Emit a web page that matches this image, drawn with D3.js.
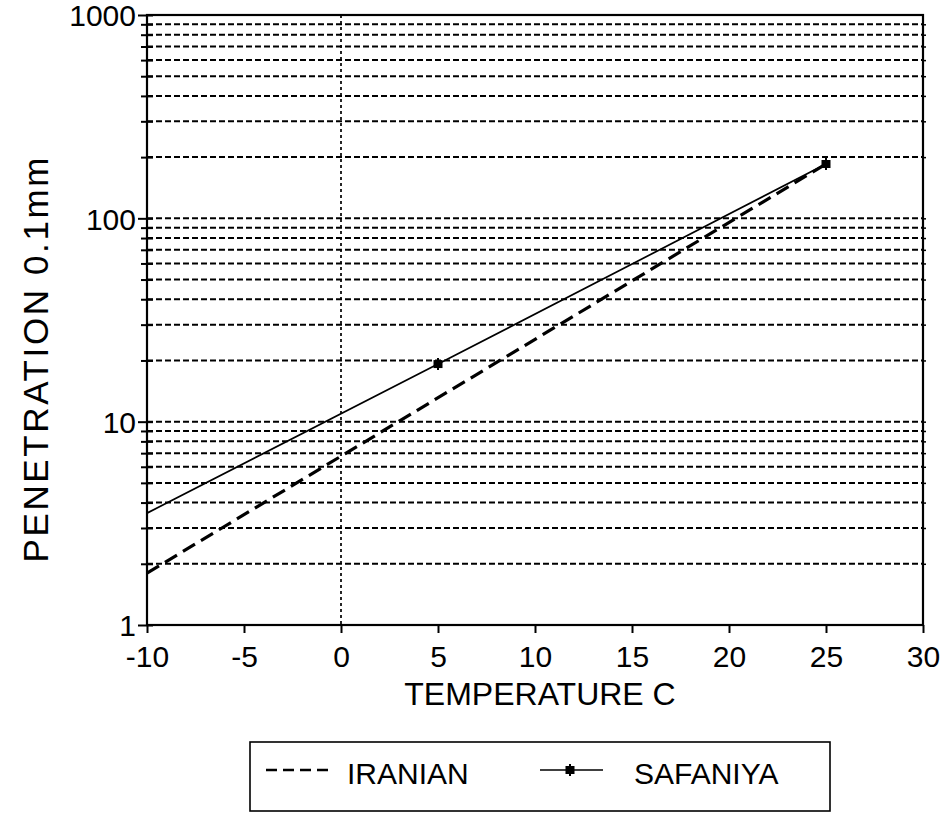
<!DOCTYPE html>
<html>
<head>
<meta charset="utf-8">
<script src="https://cdn.jsdelivr.net/npm/d3@7/dist/d3.min.js"></script>
<style>
  html, body { margin: 0; padding: 0; background: #fff; }
  svg { display: block; }
  text { font-family: "Liberation Sans", Arial, Helvetica, sans-serif; fill: #000; }
</style>
</head>
<body>
<svg id="chart" width="948" height="814"></svg>
<script>
// Penetration vs temperature for two bitumens (log scale)
const xTicks = [-10, -5, 0, 5, 10, 15, 20, 25, 30];
const yMajor = [1, 10, 100, 1000];

const iranianTemp = [-10, 25];
const iranianPen = [1.8, 185];

const safaniyaTemp = [-10, 5, 25];
const safaniyaPen = [3.55, 19.2, 185];
const safaniyaMarked = [false, true, true];

const seriesNames = ["IRANIAN", "SAFANIYA"];

const svg = d3.select("#chart");
const m = { left: 147, right: 923, top: 15, bottom: 625 };

const x = d3.scaleLinear().domain([-10, 30]).range([m.left, m.right]);
const y = d3.scaleLog().domain([1, 1000]).range([m.bottom, m.top]);

// minor values 2..9 within every decade, plus the decade lines 10 and 100
const minor = [];
[1, 10, 100].forEach(d => { for (let k = 2; k <= 9; k++) minor.push(d * k); });
const gridVals = minor.concat([10, 100]);

const g = svg.append("g");

// horizontal dashed grid
g.selectAll("line.hgrid").data(gridVals).join("line")
  .attr("class", "hgrid")
  .attr("x1", m.left).attr("x2", m.right)
  .attr("y1", d => y(d)).attr("y2", d => y(d))
  .attr("stroke", "#000").attr("stroke-width", 2)
  .attr("stroke-dasharray", "6,3");

// vertical dotted line at 0 C
g.append("line")
  .attr("x1", x(0)).attr("x2", x(0))
  .attr("y1", m.top).attr("y2", m.bottom)
  .attr("stroke", "#000").attr("stroke-width", 1.7)
  .attr("stroke-dasharray", "3,3");

// frame
g.append("rect")
  .attr("x", m.left).attr("y", m.top)
  .attr("width", m.right - m.left).attr("height", m.bottom - m.top)
  .attr("fill", "none").attr("stroke", "#000").attr("stroke-width", 2.2);

// y axis (left) with ticks crossing the axis line
const yAxis = d3.axisLeft(y).tickValues(yMajor).tickFormat(d => String(d)).tickSize(9);
const ya = g.append("g").attr("transform", `translate(${m.left},0)`).call(yAxis);
ya.select(".domain").remove();
ya.selectAll(".tick line").attr("stroke-width", 2).attr("x1", 6);
ya.selectAll(".tick text").attr("font-size", 30).attr("dy", "0.36em").attr("x", -11);

const yMinor = d3.axisLeft(y).tickValues(minor).tickFormat("").tickSize(6);
const ym = g.append("g").attr("transform", `translate(${m.left},0)`).call(yMinor);
ym.select(".domain").remove();
ym.selectAll(".tick line").attr("stroke-width", 2).attr("x1", 6);

// small outward ticks on the right frame
const yRight = d3.axisRight(y).tickValues(gridVals).tickFormat("").tickSize(3);
const yr = g.append("g").attr("transform", `translate(${m.right},0)`).call(yRight);
yr.select(".domain").remove();
yr.selectAll(".tick line").attr("stroke-width", 1.5);

// x axis, ticks pointing down
const xAxis = d3.axisBottom(x).tickValues(xTicks).tickFormat(d => String(d)).tickSize(8);
const xa = g.append("g").attr("transform", `translate(0,${m.bottom})`).call(xAxis);
xa.select(".domain").remove();
xa.selectAll(".tick line").attr("stroke-width", 2);
xa.selectAll(".tick text").attr("font-size", 30).attr("y", 42).attr("dy", null);

// axis titles
g.append("text")
  .attr("x", 540).attr("y", 705)
  .attr("text-anchor", "middle").attr("font-size", 32)
  .text("TEMPERATURE C");

g.append("text")
  .attr("transform", `translate(48,360) rotate(-90)`)
  .attr("text-anchor", "middle").attr("font-size", 35)
  .attr("textLength", 405).attr("lengthAdjust", "spacing")
  .text("PENETRATION 0.1mm");

// series
const line = d3.line().x(d => x(d[0])).y(d => y(d[1]));
const iranian = iranianTemp.map((t, i) => [t, iranianPen[i]]);
const safaniya = safaniyaTemp.map((t, i) => [t, safaniyaPen[i], safaniyaMarked[i]]);

g.append("path").datum(iranian)
  .attr("d", line).attr("fill", "none")
  .attr("stroke", "#000").attr("stroke-width", 3.2)
  .attr("stroke-dasharray", "14,7");

g.append("path").datum(safaniya)
  .attr("d", line).attr("fill", "none")
  .attr("stroke", "#000").attr("stroke-width", 1.7);

function marker(sel) {
  sel.append("rect").attr("x", -4.5).attr("y", -4).attr("width", 9).attr("height", 8).attr("fill", "#000");
  sel.append("line").attr("x1", 0).attr("x2", 0).attr("y1", -6).attr("y2", 6).attr("stroke", "#000").attr("stroke-width", 2);
}
g.selectAll("g.mk").data(safaniya.filter(d => d[2])).join("g")
  .attr("class", "mk")
  .attr("transform", d => `translate(${x(d[0])},${y(d[1])})`)
  .call(marker);

// legend
const lg = svg.append("g");
lg.append("rect").attr("x", 250).attr("y", 742).attr("width", 580).attr("height", 69)
  .attr("fill", "#fff").attr("stroke", "#000").attr("stroke-width", 1.6);
lg.append("line").attr("x1", 266).attr("x2", 330).attr("y1", 770).attr("y2", 770)
  .attr("stroke", "#000").attr("stroke-width", 2.5).attr("stroke-dasharray", "11,6");
lg.append("text").attr("x", 347).attr("y", 784).attr("font-size", 30).text(seriesNames[0]);
lg.append("line").attr("x1", 540).attr("x2", 603).attr("y1", 770).attr("y2", 770)
  .attr("stroke", "#000").attr("stroke-width", 1.7);
lg.append("g").attr("transform", "translate(570,770)").call(marker);
lg.append("text").attr("x", 634).attr("y", 784).attr("font-size", 30).text(seriesNames[1]);
</script>
</body>
</html>
